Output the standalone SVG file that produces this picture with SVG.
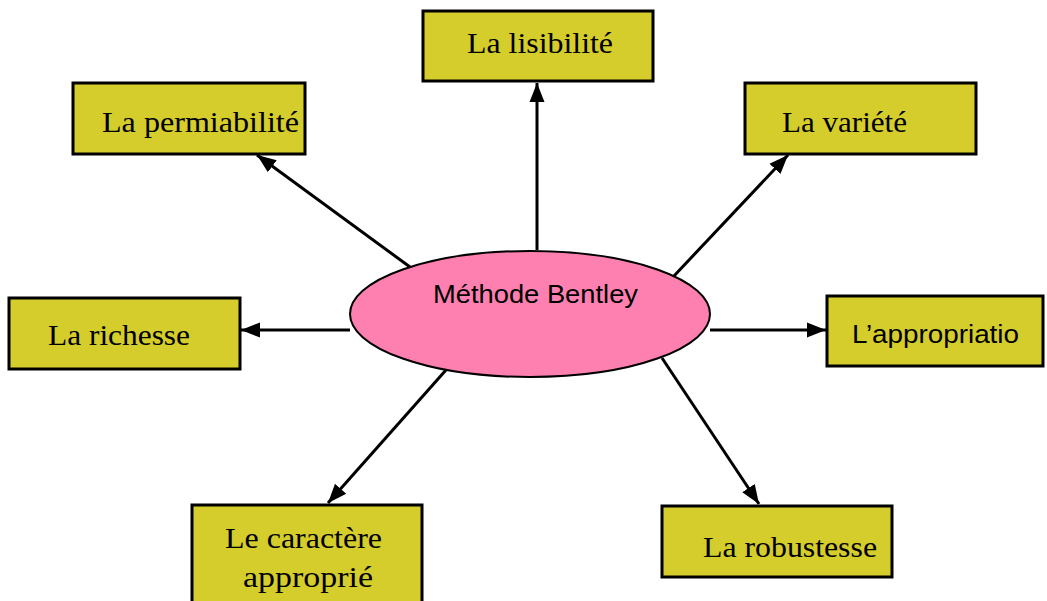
<svg xmlns="http://www.w3.org/2000/svg" width="1047" height="601" viewBox="0 0 1047 601">
<defs>
<style>
.box{fill:#d5cd2b;stroke:#000;stroke-width:3}
.t{font-family:"Liberation Serif","Times New Roman",serif;font-size:30px;fill:#000}
.s{font-family:"Liberation Sans",Arial,sans-serif;font-size:25px;fill:#000}
.c line{stroke:#000;stroke-width:3;marker-end:url(#ah)}
</style>
<marker id="ah" markerUnits="userSpaceOnUse" markerWidth="20" markerHeight="18" viewBox="0 0 20 18" refX="19" refY="9" orient="auto">
<path d="M0,1.5 L19,9 L0,16.5 Z" fill="#000"/>
</marker>
</defs>
<rect width="1047" height="601" fill="#fff"/>
<g class="c" id="connectors">
<line x1="537" y1="250" x2="537" y2="83"/>
<line x1="410" y1="267" x2="257" y2="155"/>
<line x1="673" y1="277" x2="788" y2="155"/>
<line x1="350" y1="330" x2="241" y2="330"/>
<line x1="710" y1="330" x2="826" y2="330"/>
<line x1="446" y1="370" x2="328" y2="503"/>
<line x1="662" y1="358" x2="759" y2="504"/>
</g>
<g id="center">
<ellipse cx="530" cy="314" rx="180" ry="63" fill="#fe80b1" stroke="#000" stroke-width="2"/>
<text class="s" x="433" y="303" textLength="205" lengthAdjust="spacingAndGlyphs">Méthode Bentley</text>
</g>
<g id="lisibilite">
<rect class="box" x="423" y="11" width="230" height="70"/>
<text class="t" x="467" y="53" textLength="146" lengthAdjust="spacingAndGlyphs">La lisibilité</text>
</g>
<g id="permiabilite">
<rect class="box" x="73" y="83" width="232" height="71"/>
<text class="t" x="102" y="132" textLength="197" lengthAdjust="spacingAndGlyphs">La permiabilité</text>
</g>
<g id="variete">
<rect class="box" x="745" y="83" width="231" height="71"/>
<text class="t" x="782" y="132" textLength="125" lengthAdjust="spacingAndGlyphs">La variété</text>
</g>
<g id="richesse">
<rect class="box" x="9" y="298" width="231" height="71"/>
<text class="t" x="48" y="345" textLength="142" lengthAdjust="spacingAndGlyphs">La richesse</text>
</g>
<g id="appropriation">
<rect class="box" x="827" y="296" width="216" height="70"/>
<text class="s" x="852" y="343" textLength="167" lengthAdjust="spacingAndGlyphs">L’appropriatio</text>
</g>
<g id="caractere">
<rect class="box" x="192" y="505" width="230" height="110"/>
<text class="t" x="225" y="548" textLength="157" lengthAdjust="spacingAndGlyphs">Le caractère</text>
<text class="t" x="243" y="587" textLength="130" lengthAdjust="spacingAndGlyphs">approprié</text>
</g>
<g id="robustesse">
<rect class="box" x="662" y="506" width="230" height="71"/>
<text class="t" x="703" y="557" textLength="174" lengthAdjust="spacingAndGlyphs">La robustesse</text>
</g>
</svg>
